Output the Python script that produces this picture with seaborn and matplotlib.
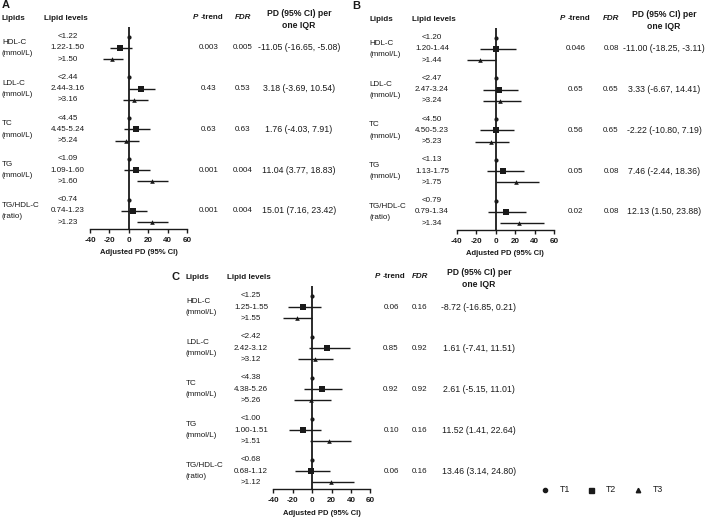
import matplotlib
matplotlib.use("Agg")
import matplotlib.pyplot as plt
import seaborn as sns
import pandas as pd
import numpy as np
from matplotlib import transforms
from matplotlib.lines import Line2D

# ---------------- data ----------------
lipids = ["HDL-C", "LDL-C", "TC", "TG", "TG/HDL-C"]
units = ["(mmol/L)", "(mmol/L)", "(mmol/L)", "(mmol/L)", "(ratio)"]
tiers = ["T1", "T2", "T3"]
xticks = [-40, -20, 0, 20, 40, 60]

A_levels = [["<1.22", "1.22-1.50", ">1.50"], ["<2.44", "2.44-3.16", ">3.16"],
            ["<4.45", "4.45-5.24", ">5.24"], ["<1.09", "1.09-1.60", ">1.60"],
            ["<0.74", "0.74-1.23", ">1.23"]]
A_ptrend = ["0.003", "0.43", "0.63", "0.001", "0.001"]
A_fdr = ["0.005", "0.53", "0.63", "0.004", "0.004"]
A_pd = ["-11.05 (-16.65, -5.08)", "3.18 (-3.69, 10.54)", "1.76 (-4.03, 7.91)",
        "11.04 (3.77, 18.83)", "15.01 (7.16, 23.42)"]
A_t2_est = [-9.4, 12.5, 7.0, 7.0, 4.7]
A_t2_lo = [-19.5, 0.0, -5.4, -5.4, -8.4]
A_t2_hi = [3.4, 27.0, 21.5, 21.5, 18.5]
A_t3_est = [-17.5, 5.4, -3.4, 23.5, 23.5]
A_t3_lo = [-27.0, -6.4, -14.8, 8.0, 8.0]
A_t3_hi = [-6.4, 20.0, 10.0, 40.0, 40.0]

B_levels = [["<1.20", "1.20-1.44", ">1.44"], ["<2.47", "2.47-3.24", ">3.24"],
            ["<4.50", "4.50-5.23", ">5.23"], ["<1.13", "1.13-1.75", ">1.75"],
            ["<0.79", "0.79-1.34", ">1.34"]]
B_ptrend = ["0.046", "0.65", "0.56", "0.05", "0.02"]
B_fdr = ["0.08", "0.65", "0.65", "0.08", "0.08"]
B_pd = ["-11.00 (-18.25, -3.11)", "3.33 (-6.67, 14.41)", "-2.22 (-10.80, 7.19)",
        "7.46 (-2.44, 18.36)", "12.13 (1.50, 23.88)"]
B_t2_est = [0.3, 3.8, 0.0, 7.8, 10.2]
B_t2_lo = [-15.7, -13.3, -15.7, -9.2, -7.5]
B_t2_hi = [20.5, 22.9, 19.0, 29.0, 31.7]
B_t3_est = [-16.0, 4.0, -5.1, 20.5, 24.2]
B_t3_lo = [-29.4, -12.6, -20.8, 0.0, 4.4]
B_t3_hi = [0.0, 25.6, 13.7, 45.0, 49.5]

C_levels = [["<1.25", "1.25-1.55", ">1.55"], ["<2.42", "2.42-3.12", ">3.12"],
            ["<4.38", "4.38-5.26", ">5.26"], ["<1.00", "1.00-1.51", ">1.51"],
            ["<0.68", "0.68-1.12", ">1.12"]]
C_ptrend = ["0.06", "0.85", "0.92", "0.10", "0.06"]
C_fdr = ["0.16", "0.92", "0.92", "0.16", "0.16"]
C_pd = ["-8.72 (-16.85, 0.21)", "1.61 (-7.41, 11.51)", "2.61 (-5.15, 11.01)",
        "11.52 (1.41, 22.64)", "13.46 (3.14, 24.80)"]
C_t2_est = [-9.2, 15.4, 9.9, -8.9, -1.4]
C_t2_lo = [-24.6, -3.4, -8.5, -24.2, -18.0]
C_t2_hi = [8.9, 38.6, 31.0, 9.2, 18.0]
C_t3_est = [-15.7, 3.1, -1.4, 17.4, 19.5]
C_t3_lo = [-29.7, -14.3, -18.4, -2.0, -0.3]
C_t3_hi = [0.0, 21.8, 19.5, 40.3, 43.0]

# ---------------- style ----------------
sns.set_style("white")
plt.rcParams["font.family"] = ["Liberation Sans", "DejaVu Sans"]
plt.rcParams["axes.unicode_minus"] = False

INK = "#1a1a1a"
FS = 5.8
FS_PD = 6.3
W, H = 709, 517
fig = plt.figure(figsize=(W / 100, H / 100), dpi=100)

ROW_GAP = 3.6
YLIM = (17.0, -0.85)


def ypos(g, r):
    return g * ROW_GAP + r


def draw_panel(letter, box, lay, levels, ptrend, fdr, pdtxt,
               t2e, t2l, t2h, t3e, t3l, t3h):
    left, right, top, bottom = box
    ax = fig.add_axes([left / W, 1 - bottom / H, (right - left) / W, (bottom - top) / H])
    ax.patch.set_alpha(0)
    rows = []
    for g in range(5):
        rows.append(dict(tier="T1", pd=0.0, lo=np.nan, hi=np.nan, y=ypos(g, 0)))
        rows.append(dict(tier="T2", pd=t2e[g], lo=t2l[g], hi=t2h[g], y=ypos(g, 1)))
        rows.append(dict(tier="T3", pd=t3e[g], lo=t3l[g], hi=t3h[g], y=ypos(g, 2)))
    df = pd.DataFrame(rows)

    ax.axvline(0, color=INK, lw=1.3, zorder=1)
    ci = df.dropna()
    ax.hlines(ci["y"], ci["lo"], ci["hi"], color=INK, lw=1.0, zorder=2)
    for tier, mk, s in [("T1", "o", 9), ("T2", "s", 16), ("T3", "^", 11)]:
        sns.scatterplot(data=df[df["tier"] == tier], x="pd", y="y", marker=mk, s=s,
                        color=INK, edgecolor=INK, linewidth=0, ax=ax,
                        legend=False, zorder=3)
    ax.set_xlim(-40, 60)
    ax.set_ylim(*YLIM)
    ax.set_xticks(xticks)
    ax.set_yticks([])
    for sp in ["top", "right", "left"]:
        ax.spines[sp].set_visible(False)
    ax.spines["bottom"].set_linewidth(1.0)
    ax.spines["bottom"].set_color(INK)
    ax.tick_params(axis="x", length=3, width=1, pad=2.6, labelsize=FS,
                   colors=INK, direction="out", bottom=True)
    for lab in ax.get_xticklabels():
        lab.set_fontweight("bold")
    ax.set_xlabel("Adjusted PD (95% CI)", fontsize=5.5, fontweight="bold",
                  labelpad=4.0, color=INK)
    ax.set_ylabel("")

    tr = transforms.blended_transform_factory(fig.transFigure, ax.transData)

    def t(xpx, yd, s, **kw):
        kw.setdefault("fontsize", FS)
        kw.setdefault("color", INK)
        kw.setdefault("va", "center")
        fig.text(xpx / W, yd, s, transform=tr, **kw)

    # panel letter
    t(lay["letter_x"], lay["letter_y"], letter, fontsize=8, fontweight="bold", ha="left")
    # headers
    t(lay["name_x"], -1.6, "Lipids", fontweight="bold", ha="left")
    t(lay["lvlhdr_x"], -1.6, "Lipid levels", fontweight="bold", ha="left")
    pc = lay["p_x"]
    t(pc - 11, -1.7, "P", fontweight="bold", style="italic", ha="right")
    t(pc - 8, -1.7, "-trend", fontweight="bold", ha="left")
    t(lay["fdr_x"], -1.7, "FDR", fontweight="bold", style="italic", ha="center")
    t(lay["pd_x"], -2.05, "PD (95% CI) per", fontsize=6.2, fontweight="bold", ha="center")
    t(lay["pd_x"], -1.0, "one IQR", fontsize=6.2, fontweight="bold", ha="center")

    for g in range(5):
        t(lay["name_x"], ypos(g, 0.5), lipids[g], ha="left")
        t(lay["name_x"], ypos(g, 1.5), units[g], ha="left")
        for r in range(3):
            t(lay["lvl_x"], ypos(g, r), levels[g][r], ha="center")
        t(lay["p_x"], ypos(g, 1), ptrend[g], ha="center")
        t(lay["fdr_x"], ypos(g, 1), fdr[g], ha="center")
        t(lay["pd_x"], ypos(g, 1), pdtxt[g], fontsize=FS_PD, ha="center")
    return ax


layA = dict(letter_x=2, letter_y=-2.75, name_x=2, lvlhdr_x=44.5, lvl_x=67.5,
            p_x=209, fdr_x=243, pd_x=299)
layB = dict(letter_x=352, letter_y=-2.75, name_x=369, lvlhdr_x=412, lvl_x=432,
            p_x=576, fdr_x=611, pd_x=664)
layC = dict(letter_x=171, letter_y=-1.65, name_x=186, lvlhdr_x=227, lvl_x=251,
            p_x=391, fdr_x=420, pd_x=479)

draw_panel("A", (90, 187.3, 27, 229), layA, A_levels, A_ptrend, A_fdr, A_pd,
           A_t2_est, A_t2_lo, A_t2_hi, A_t3_est, A_t3_lo, A_t3_hi)
draw_panel("B", (456.7, 554, 28, 230), layB, B_levels, B_ptrend, B_fdr, B_pd,
           B_t2_est, B_t2_lo, B_t2_hi, B_t3_est, B_t3_lo, B_t3_hi)
draw_panel("C", (273.3, 370.3, 286, 489.3), layC, C_levels, C_ptrend, C_fdr, C_pd,
           C_t2_est, C_t2_lo, C_t2_hi, C_t3_est, C_t3_lo, C_t3_hi)

# legend
for (mx, tx), tier, mk, ms in zip([(545, 560), (591, 606), (638, 653)], tiers,
                                  ["o", "s", "^"], [3.0, 3.6, 3.2]):
    fig.add_artist(Line2D([mx / W], [1 - 490 / H], transform=fig.transFigure,
                          marker=mk, markersize=ms, color=INK, linestyle="none"))
    fig.text(tx / W, 1 - 490 / H, tier, fontsize=6.3, color=INK, ha="left", va="center")

fig.savefig("out.png", dpi=100)
